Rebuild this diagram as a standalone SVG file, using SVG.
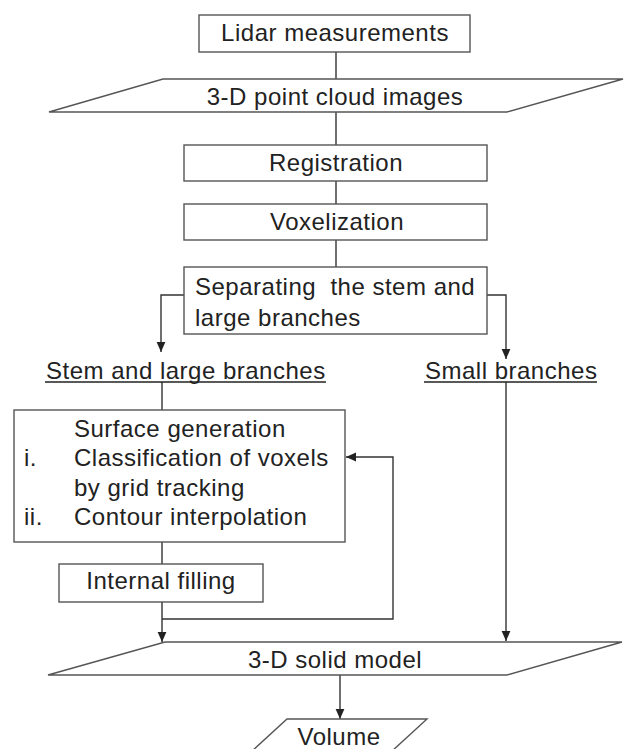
<svg xmlns="http://www.w3.org/2000/svg" width="627" height="749" viewBox="0 0 627 749">
  <style>
    .box { fill: #ffffff; stroke: #555555; stroke-width: 1.4; }
    .lbl { font-family: "Liberation Sans", Arial, Helvetica, sans-serif; font-size: 24px; letter-spacing: 0.5px; fill: #222222; }
    .mid { text-anchor: middle; }
    .wire { fill: none; stroke: #333333; stroke-width: 1.4; }
    .ul { stroke: #222222; stroke-width: 1.6; }
  </style>
  <defs>
    <marker id="arrow" viewBox="0 0 10 10" refX="10" refY="5" markerWidth="10" markerHeight="10" markerUnits="userSpaceOnUse" orient="auto">
      <path d="M0,0.6 L10,5 L0,9.4 Z" fill="#222222"/>
    </marker>
  </defs>

  <rect width="627" height="749" fill="#ffffff"/>

  <!-- connectors -->
  <g id="connectors">
    <line class="wire" x1="336" y1="52" x2="336" y2="79"/>
    <line class="wire" x1="336" y1="112" x2="336" y2="145"/>
    <line class="wire" x1="336" y1="181" x2="336" y2="204"/>
    <line class="wire" x1="336" y1="240" x2="336" y2="267"/>
    <polyline class="wire" points="184,295 161,295 161,352" marker-end="url(#arrow)"/>
    <polyline class="wire" points="487,295 506,295 506,359" marker-end="url(#arrow)"/>
    <line class="wire" x1="162" y1="382" x2="162" y2="410"/>
    <line class="wire" x1="162" y1="542" x2="162" y2="564"/>
    <line class="wire" x1="162" y1="602" x2="162" y2="642" marker-end="url(#arrow)"/>
    <polyline class="wire" points="162,619 393,619 393,457 346,457" marker-end="url(#arrow)"/>
    <line class="wire" x1="506" y1="382" x2="506" y2="641" marker-end="url(#arrow)"/>
    <line class="wire" x1="340" y1="675" x2="340" y2="719" marker-end="url(#arrow)"/>
  </g>

  <g id="lidar">
    <rect class="box" x="199" y="15" width="271" height="37"/>
    <text class="lbl mid" x="335" y="41">Lidar measurements</text>
  </g>

  <g id="point-cloud">
    <polygon class="box" points="163,79 623,79 507,112 49,112"/>
    <text class="lbl mid" x="335" y="105">3-D point cloud images</text>
  </g>

  <g id="registration">
    <rect class="box" x="184" y="145" width="303" height="36"/>
    <text class="lbl mid" x="336" y="171">Registration</text>
  </g>

  <g id="voxelization">
    <rect class="box" x="184" y="204" width="303" height="36"/>
    <text class="lbl mid" x="337" y="230">Voxelization</text>
  </g>

  <g id="separating">
    <rect class="box" x="184" y="267" width="303" height="67"/>
    <text class="lbl" x="195" y="295" xml:space="preserve">Separating  the stem and</text>
    <text class="lbl" x="195" y="326">large branches</text>
  </g>

  <g id="stem-branches">
    <text class="lbl" x="46" y="379">Stem and large branches</text>
    <line class="ul" x1="45" y1="382" x2="326" y2="382"/>
  </g>

  <g id="small-branches">
    <text class="lbl" x="425" y="379">Small branches</text>
    <line class="ul" x1="424" y1="382" x2="597" y2="382"/>
  </g>

  <g id="surface">
    <rect class="box" x="14" y="410" width="331" height="132"/>
    <text class="lbl" x="74" y="437">Surface generation</text>
    <text class="lbl" x="24" y="466">i.</text>
    <text class="lbl" x="74" y="466">Classification of voxels</text>
    <text class="lbl" x="74" y="496">by grid tracking</text>
    <text class="lbl" x="24" y="525">ii.</text>
    <text class="lbl" x="74" y="525">Contour interpolation</text>
  </g>

  <g id="internal-filling">
    <rect class="box" x="59" y="564" width="204" height="38"/>
    <text class="lbl mid" x="161" y="589">Internal filling</text>
  </g>

  <g id="solid-model">
    <polygon class="box" points="165,642 622,642 507,675 48,675"/>
    <text class="lbl mid" x="335" y="668">3-D solid model</text>
  </g>

  <g id="volume">
    <polygon class="box" points="287,719 427,719 391,752 251,752"/>
    <text class="lbl mid" x="339" y="745">Volume</text>
  </g>
</svg>
